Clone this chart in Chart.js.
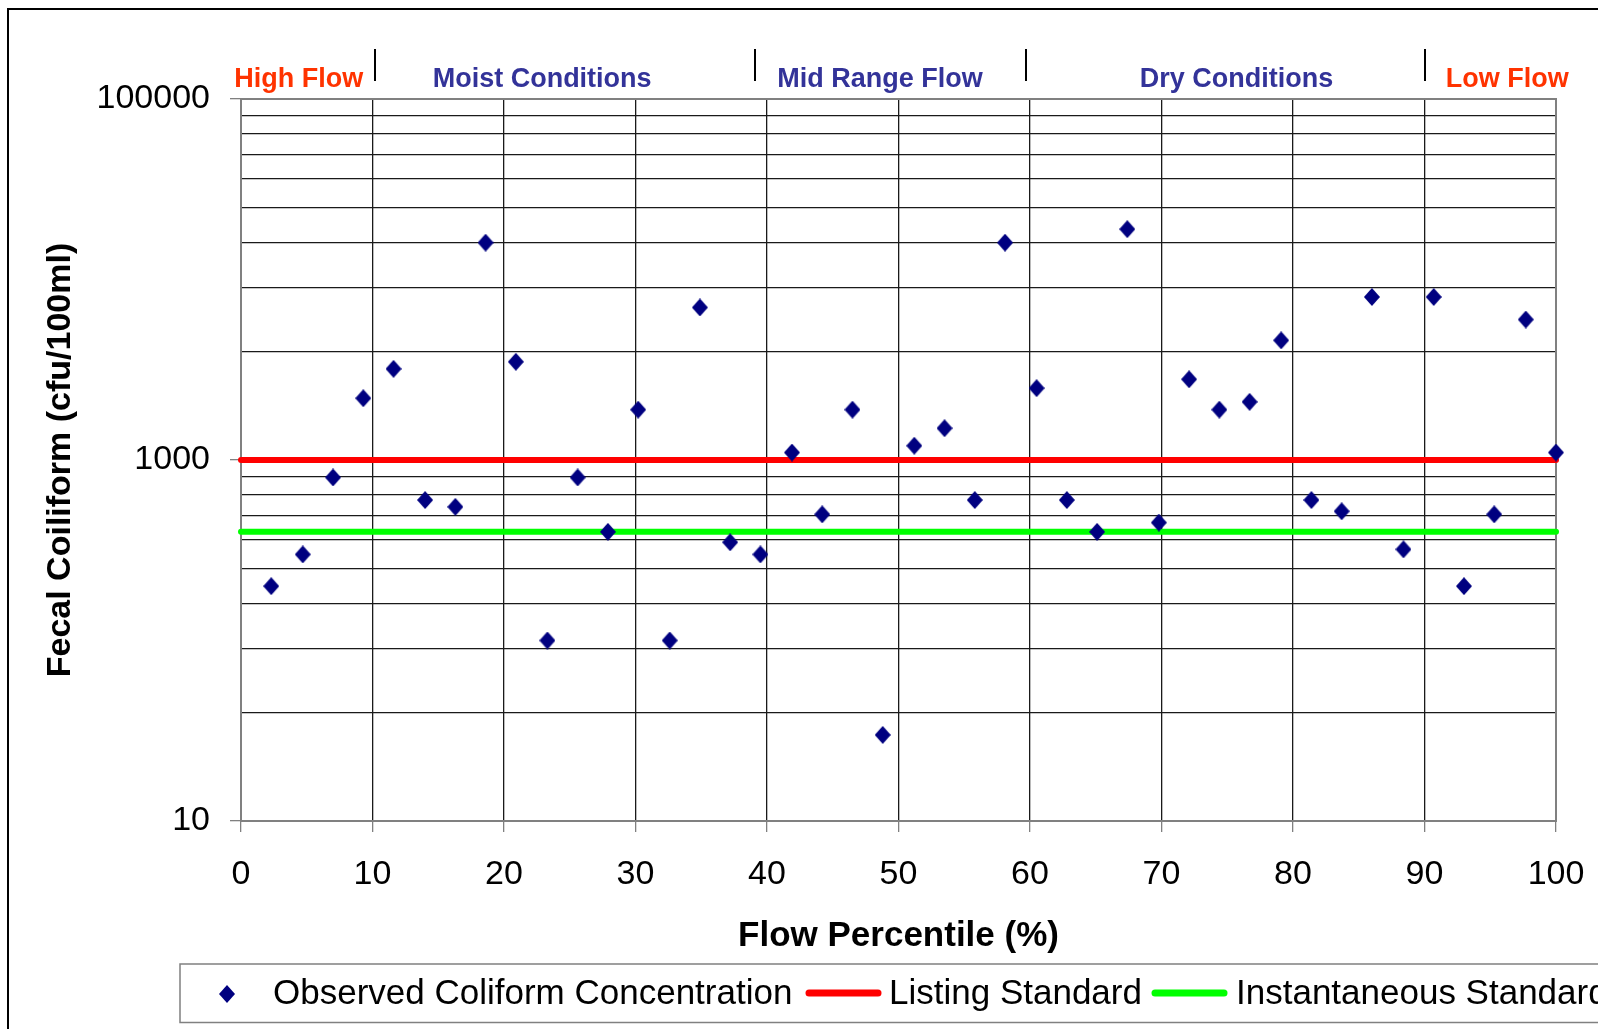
<!DOCTYPE html>
<html>
<head>
<meta charset="utf-8">
<script src="https://cdn.jsdelivr.net/npm/chart.js@4.4.0/dist/chart.umd.min.js"></script>
<style>
  html, body { margin: 0; padding: 0; background: #fff; }
  #wrap { width: 1598px; height: 1029px; }
</style>
</head>
<body>
<div id="wrap"><canvas id="chart" width="1598" height="1029"></canvas></div>
<script>
// Flow percentile (%) of each sample
const flowPercentile = [2.3, 4.7, 7.0, 9.3, 11.6, 14.0, 16.3, 18.6, 20.9, 23.3, 25.6, 27.9, 30.2, 32.6, 34.9,
  37.2, 39.5, 41.9, 44.2, 46.5, 48.8, 51.2, 53.5, 55.8, 58.1, 60.5, 62.8, 65.1, 67.4, 69.8, 72.1, 74.4,
  76.7, 79.1, 81.4, 83.7, 86.0, 88.4, 90.7, 93.0, 95.3, 97.7, 100];
// Observed fecal coliform (cfu/100ml)
const coliform = [200, 300, 800, 2200, 3200, 600, 550, 16000, 3500, 100, 800, 400, 1900, 100, 7000,
  350, 300, 1100, 500, 1900, 30, 1200, 1500, 600, 16000, 2500, 600, 400, 19000, 450, 2800, 1900,
  2100, 4600, 600, 520, 8000, 320, 8000, 200, 500, 6000, 1100];

// Standards (horizontal lines over the full percentile range)
const listingStandard = 1000;
const instantaneousStandard = 400;
const standardRange = [0, 100];

// Axis ticks
const xTicks = [0, 10, 20, 30, 40, 50, 60, 70, 80, 90, 100];
const yGridValues = [10, 40, 90, 160, 250, 360, 490, 640, 810, 1000,
  4000, 9000, 16000, 25000, 36000, 49000, 64000, 81000, 100000];
const yTickLabels = [10, 1000, 100000];

// Flow zones shown above the plot
const zoneNames = ['High Flow', 'Moist Conditions', 'Mid Range Flow', 'Dry Conditions', 'Low Flow'];
const zoneCenters = [4.4, 22.9, 48.6, 75.7, 96.3];
const zoneColors = ['#FF3300', '#333399', '#333399', '#333399', '#FF3300'];
const zoneBreaks = [10.2, 39.1, 59.7, 90.0];

const FONT = '"Liberation Sans", Arial, sans-serif';

// diamond marker (a bit taller than wide, like the Excel one)
function makeDiamond(w, h, color) {
  const c = document.createElement('canvas');
  c.width = w; c.height = h;
  const g = c.getContext('2d');
  g.fillStyle = color;
  g.beginPath();
  g.moveTo(w / 2, 0);
  g.lineTo(w, h / 2);
  g.lineTo(w / 2, h);
  g.lineTo(0, h / 2);
  g.closePath();
  g.fill();
  return c;
}
const diamond = makeDiamond(16, 18, '#000080');

const observed = flowPercentile.map((x, i) => ({ x: x, y: coliform[i] }));
const listingLine = standardRange.map(x => ({ x: x, y: listingStandard }));
const instantLine = standardRange.map(x => ({ x: x, y: instantaneousStandard }));

// frame, zone labels and the boxed legend
const decor = {
  id: 'decor',
  beforeDraw(chart) {
    const ctx = chart.ctx;
    ctx.save();
    ctx.fillStyle = '#fff';
    ctx.fillRect(0, 0, chart.width, chart.height);
    ctx.restore();
  },
  beforeDatasetsDraw(chart) {
    const ctx = chart.ctx;
    const a = chart.chartArea;
    ctx.save();
    ctx.strokeStyle = '#808080';
    ctx.lineWidth = 2;
    ctx.strokeRect(a.left, a.top, a.right - a.left, a.bottom - a.top);
    ctx.restore();
  },
  afterDraw(chart) {
    const ctx = chart.ctx;
    const xs = chart.scales.x;
    ctx.save();

    // outer frame
    ctx.strokeStyle = '#000';
    ctx.lineWidth = 2;
    ctx.strokeRect(8, 9, 1700, 1100);

    // zones
    ctx.font = 'bold 27px ' + FONT;
    ctx.textAlign = 'center';
    ctx.textBaseline = 'alphabetic';
    zoneNames.forEach((name, i) => {
      ctx.fillStyle = zoneColors[i];
      ctx.fillText(name, xs.getPixelForValue(zoneCenters[i]), 87);
    });
    ctx.strokeStyle = '#000';
    ctx.lineWidth = 2;
    zoneBreaks.forEach(b => {
      const px = Math.round(xs.getPixelForValue(b));
      ctx.beginPath();
      ctx.moveTo(px, 49);
      ctx.lineTo(px, 81);
      ctx.stroke();
    });

    // legend box
    ctx.strokeStyle = '#808080';
    ctx.lineWidth = 1.5;
    ctx.strokeRect(180, 964, 1500, 58.5);
    ctx.drawImage(diamond, 227 - diamond.width / 2, 994 - diamond.height / 2);
    ctx.font = '35px ' + FONT;
    ctx.textAlign = 'left';
    ctx.fillStyle = '#000';
    ctx.fillText('Observed Coliform Concentration', 273, 1004);
    ctx.lineCap = 'round';
    ctx.lineWidth = 7;
    ctx.strokeStyle = '#FF0000';
    ctx.beginPath(); ctx.moveTo(809, 993); ctx.lineTo(878, 993); ctx.stroke();
    ctx.fillText('Listing Standard', 889, 1004);
    ctx.strokeStyle = '#00FF00';
    ctx.beginPath(); ctx.moveTo(1155, 993); ctx.lineTo(1224, 993); ctx.stroke();
    ctx.fillText('Instantaneous Standard', 1236, 1004);
    ctx.restore();
  }
};

new Chart(document.getElementById('chart'), {
  type: 'scatter',
  plugins: [decor],
  data: {
    datasets: [
      {
        label: 'Observed Coliform Concentration',
        data: observed,
        pointStyle: diamond,
        backgroundColor: '#000080',
        clip: false
      },
      {
        label: 'Listing Standard',
        data: listingLine,
        showLine: true,
        borderColor: '#FF0000',
        borderWidth: 6,
        borderCapStyle: 'round',
        pointRadius: 0,
        clip: false
      },
      {
        label: 'Instantaneous Standard',
        data: instantLine,
        showLine: true,
        borderColor: '#00FF00',
        borderWidth: 6,
        borderCapStyle: 'round',
        pointRadius: 0,
        clip: false
      }
    ]
  },
  options: {
    responsive: false,
    animation: false,
    events: [],
    layout: { padding: { left: 0, top: 99, right: 42, bottom: 0 } },
    plugins: {
      legend: { display: false },
      tooltip: { enabled: false }
    },
    scales: {
      x: {
        type: 'linear',
        min: 0,
        max: 100,
        afterBuildTicks: s => { s.ticks = xTicks.map(v => ({ value: v })); },
        afterFit: s => { s.height = 208; s.paddingLeft = 0; s.paddingRight = 0; },
        border: { display: false },
        grid: { color: '#1a1a1a', lineWidth: 1.3, tickLength: 11, tickColor: '#808080' },
        ticks: {
          color: '#000',
          font: { family: FONT, size: 34 },
          padding: 22,
          maxRotation: 0,
          autoSkip: false
        },
        title: {
          display: true,
          text: 'Flow Percentile (%)',
          color: '#000',
          font: { family: FONT, size: 35, weight: 'bold' },
          padding: { top: 0, bottom: 72 }
        }
      },
      y: {
        type: 'logarithmic',
        min: 10,
        max: 100000,
        afterBuildTicks: s => {
          s.ticks = yGridValues.map(v => ({ value: v, major: yTickLabels.includes(v) }));
        },
        afterFit: s => { s.width = 241; s.paddingTop = 0; s.paddingBottom = 0; },
        border: { display: false },
        grid: {
          color: '#1a1a1a',
          lineWidth: 1.3,
          tickLength: 11,
          tickColor: c => (c.tick && yTickLabels.includes(c.tick.value)) ? '#808080' : 'rgba(0,0,0,0)'
        },
        ticks: {
          color: '#000',
          font: { family: FONT, size: 34 },
          padding: 20,
          autoSkip: false,
          callback: v => yTickLabels.includes(v) ? String(v) : ''
        },
        title: {
          display: true,
          text: 'Fecal Coiliform (cfu/100ml)',
          color: '#000',
          font: { family: FONT, size: 34, weight: 'bold' },
          padding: { top: 40, bottom: 0 }
        }
      }
    }
  }
});
</script>
</body>
</html>
